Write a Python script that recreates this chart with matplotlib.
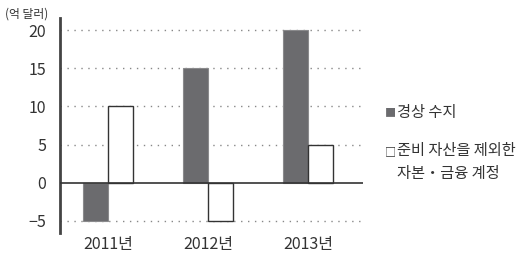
import matplotlib
matplotlib.use("Agg")
import matplotlib.pyplot as plt
import numpy as np

plt.rcParams['font.family'] = ['Noto Sans CJK KR', 'DejaVu Sans']

years = ['2011년', '2012년', '2013년']
current_account = [-5, 15, 20]
capital_financial = [10, -5, 5]
yticks = [-5, 0, 5, 10, 15, 20]
unit_label = '(억 달러)'
legend_labels = ['경상 수지', '준비 자산을 제외한\n자본・금융 계정']

fig = plt.figure(figsize=(5.28, 2.54), dpi=100)
ax = fig.add_axes([60/528, 21/254, 303/528, 215/254])

x = np.arange(len(years))
w = 0.25
ax.bar(x - w/2, current_account, w, color='#6b6b6e', edgecolor='#8a8a8c', linewidth=0.8, zorder=3)
ax.bar(x + w/2, capital_financial, w, color='white', edgecolor='#333333', linewidth=1.0, zorder=3)

ax.set_xlim(-0.48, 2.55)
ax.set_ylim(-6.6, 21.6)
ax.set_yticks(yticks)
ax.set_yticklabels(['\u22125' if v < 0 else str(v) for v in yticks], fontsize=11.5, color='#333333')
for v in yticks:
    if v != 0:
        ax.axhline(v, color='#888888', linestyle=(0, (1, 4)), linewidth=1.0, zorder=1)
ax.axhline(0, color='#333333', linewidth=1.2, zorder=4)

ax.set_xticks(x)
ax.set_xticklabels(years, fontsize=11.5, color='#333333')
ax.tick_params(axis='both', length=0, pad=2)
ax.tick_params(axis='y', pad=10)
for s in ['top', 'right', 'bottom']:
    ax.spines[s].set_visible(False)
ax.spines['left'].set_color('#444444')
ax.spines['left'].set_linewidth(2)

fig.text(5/528, 1 - 14/254, unit_label, fontsize=8.5, color='#333333', va='center', ha='left')

fig.text(385/528, 1 - 113/254, '■', fontsize=8, color='#6b6b6e', va='center', ha='left')
fig.text(397/528, 1 - 113/254, legend_labels[0], fontsize=11, color='#333333', va='center', ha='left')
fig.text(385/528, 1 - 152/254, '□', fontsize=8, color='#333333', va='center', ha='left')
fig.text(397/528, 1 - 162/254, legend_labels[1], fontsize=11, color='#333333', va='center', ha='left', linespacing=1.4)

fig.savefig('out.png', dpi=100)
